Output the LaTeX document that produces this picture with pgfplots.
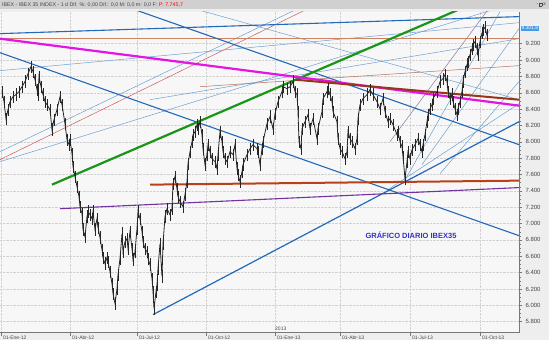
\documentclass[border=0pt]{standalone}
\usepackage{fontspec}
\setmainfont{Liberation Sans}
\usepackage{pgfplots}
\usepackage{pgfplotstable}
\pgfplotsset{compat=1.18}
\definecolor{bgout}{RGB}{238,238,238}
\definecolor{bgplot}{RGB}{247,247,247}
\definecolor{headgray}{RGB}{208,208,208}
\definecolor{gridc}{RGB}{210,210,210}
\definecolor{axc}{RGB}{120,120,120}
\definecolor{lblc}{RGB}{70,70,70}
\definecolor{magl}{RGB}{228,20,228}
\definecolor{salm}{RGB}{205,130,100}
\definecolor{bluel}{RGB}{35,105,185}
\definecolor{bluet}{RGB}{110,160,210}
\definecolor{greenl}{RGB}{25,150,25}
\definecolor{redl}{RGB}{185,65,25}
\definecolor{brownl}{RGB}{150,55,25}
\definecolor{purpl}{RGB}{115,50,160}
\definecolor{redt}{RGB}{205,90,90}
\definecolor{brownt}{RGB}{180,110,90}
\definecolor{grayp}{RGB}{140,120,160}
\definecolor{titc}{RGB}{50,50,200}
\definecolor{boxc}{RGB}{70,155,230}
\pgfplotstableread{
x v
2 8613
4 8491
6 8283
8 8393
10 8491
13 8552
16 8577
19 8613
22 8674
25 8736
28 8833
31 8919
33 8858
35 8760
37 8638
38 8577
39 8797
41 8674
43 8577
45 8491
47 8454
50 8393
52 8149
54 8271
57 8393
60 8552
62 8454
65 8222
67 8026
69 7965
70 8026
72 7855
73 7696
75 7574
77 7451
79 7329
80 7207
82 7121
83 6926
85 6840
87 7085
88 7146
90 7109
92 7060
93 7146
95 6926
97 7060
98 6950
100 6828
102 6681
103 6583
105 6510
107 6583
108 6534
110 6412
112 6265
113 6143
115 6021
117 6204
118 6375
120 6571
122 6877
123 6656
125 6779
127 6815
128 6693
130 6901
132 6693
133 6559
135 6656
137 6938
138 7146
140 7060
142 6901
143 6779
145 6693
147 6656
148 6571
150 6498
152 6326
153 6167
154 5959
156 6167
157 6253
158 6449
160 6754
162 6351
163 6754
165 7085
167 7182
170 7109
172 7182
173 7488
175 7574
177 7427
178 7329
180 7268
183 7207
185 7354
187 7513
188 7733
190 7879
192 8002
193 8087
195 8124
197 8210
198 8161
200 8246
202 8087
203 7916
205 7721
207 7843
208 7965
210 7879
212 7794
215 7757
217 7672
218 7843
220 8124
222 8002
223 7879
225 7794
227 7757
230 7879
233 7843
235 7965
237 7672
238 7598
240 7513
242 7635
243 7721
247 7843
250 7916
253 7965
257 7916
258 7879
260 7721
262 7916
263 8002
267 8222
270 8308
273 8161
275 8344
278 8491
282 8613
283 8674
287 8650
290 8674
293 8736
295 8613
297 8577
298 8369
299 8002
301 7916
302 8161
305 8246
308 8332
310 8161
313 8283
317 8038
318 8161
322 8369
323 8528
327 8613
328 8650
330 8577
332 8491
333 8369
337 8246
338 8038
340 7916
342 7879
345 7794
347 7879
348 8124
350 8038
352 8002
355 7916
357 8038
358 8283
360 8454
363 8528
367 8577
370 8638
373 8577
377 8491
380 8405
383 8528
385 8369
388 8246
390 8283
393 8210
397 8087
398 8124
400 8002
402 7941
403 7818
405 7549
407 7757
408 7879
410 7794
412 7904
415 7965
418 8038
420 7965
422 7879
423 7965
425 8087
427 8246
428 8332
430 8405
432 8454
433 8528
437 8613
440 8736
443 8772
445 8821
447 8736
448 8613
450 8528
452 8577
453 8491
455 8405
457 8332
458 8405
460 8491
462 8613
463 8736
465 8858
467 8944
468 8980
470 9066
472 9139
473 9188
475 9225
477 9139
478 9066
480 9225
482 9330
483 9370
485 9400
487 9302
}\ibex
\begin{document}
\begin{tikzpicture}[x=1pt,y=1pt]
\fill[bgout] (0,0) rectangle (549,340);
\path[use as bounding box] (0,0) rectangle (549,340);
\fill[headgray] (0,331) rectangle (549,340);
\node[anchor=west, inner sep=0pt, font=\fontsize{5.3}{6}\selectfont, text=lblc] at (2,335.5) {IBEX - IBEX 35 INDEX - 1 d Dif. \%: 0,00 Dif.: 0,0 M: 0,0 m: 0,0 F: \textcolor{red}{P: 7.745,7}};
\node[anchor=east, inner sep=0pt, font=\fontsize{5}{6}\selectfont, text=lblc] at (546,335.5) {-\,{\fboxsep=0pt\fboxrule=0.4pt\fbox{\rule{0pt}{2.5pt}\hspace{2.5pt}}}\,x};
\begin{axis}[
  at={(0,9)}, anchor=south west,
  width=519pt, height=321pt, scale only axis,
  xmin=0, xmax=519, ymin=5666, ymax=9592,
  axis background/.style={fill=bgplot},
  axis x line*=bottom, axis y line*=right,
  axis line style={axc, line width=0.5pt},
  ytick={5800,6000,...,9200},
  minor y tick num=3,
  yticklabel pos=right,
  y tick label style={font=\fontsize{6}{7}\selectfont, text=lblc, /pgf/number format/.cd, fixed, precision=0, 1000 sep={.}, assume math mode=true},
  xtick={1,70,137,206,275,340,410,480},
  xticklabels={01-Ene-12,01-Abr-12,01-Jul-12,01-Oct-12,01-Ene-13,01-Abr-13,01-Jul-13,01-Oct-13},
  x tick label style={font=\fontsize{5}{6}\selectfont, text=lblc, anchor=north west, xshift=-1.5pt, yshift=3.5pt},
  tick align=outside,
  major tick length=3pt, minor tick length=1.5pt,
  tick style={axc, line width=0.4pt},
  xmajorgrids, ymajorgrids,
  grid style={gridc, densely dotted, line width=0.4pt},
  clip=true,
]
% thin lines
\addplot[bluet, line width=0.5pt] coordinates {(0,8870) (519,9457)};
\addplot[bluet, line width=0.5pt] coordinates {(0,7879) (300,9641)};
\addplot[redt, line width=0.5pt] coordinates {(0,7782) (310,9641)};
\addplot[bluet, line width=0.5pt] coordinates {(0,7757) (519,9714)};
\addplot[bluet, line width=0.5pt] coordinates {(150,8515) (519,9261)};
\addplot[brownt, line width=0.5pt] coordinates {(200,8674) (519,8931)};
\addplot[bluet, line width=0.5pt] coordinates {(180,9677) (519,8515)};
\addplot[grayp, line width=0.5pt] coordinates {(390,8002) (488,9616)};
\addplot[bluet, line width=0.5pt] coordinates {(403,7488) (500,9592)};
\addplot[bluet, line width=0.5pt] coordinates {(422,7721) (519,9384)};
\addplot[bluet, line width=0.5pt] coordinates {(440,7610) (519,8736)};
\addplot[bluet, line width=0.5pt] coordinates {(388,7415) (519,8467)};
% main lines
\addplot[salm, line width=1.2pt] coordinates {(0,9261) (519,9261)};
\addplot[bluel, line width=1.1pt] coordinates {(0,9323) (519,9531)};
\addplot[bluel, line width=1.1pt] coordinates {(132,9628) (519,7965)};
\addplot[bluel, line width=1.1pt] coordinates {(0,9090) (519,6852)};
\addplot[bluel, line width=1.2pt] coordinates {(153,5886) (519,8246)};
\addplot[purpl, line width=1.1pt] coordinates {(60,7182) (519,7440)};
\addplot[redl, line width=2pt] coordinates {(150,7476) (519,7525)};
\addplot[greenl, line width=2.2pt] coordinates {(52,7476) (470,9677)};
\addplot[magl, line width=2.2pt] coordinates {(0,9261) (519,8442)};
\addplot[brownl, line width=2pt] coordinates {(295,8760) (519,8515)};
% price
\addplot[black!85, line width=0.8pt, mark=none,
  error bars/.cd, y dir=both, y fixed=75, error mark=none,
  error bar style={black!85, line width=1pt}] table[x=x, y=v] {\ibex};
\node[anchor=north west, inner sep=0pt, font=\fontsize{5}{6}\selectfont, text=lblc] at (axis cs:275,5735) {2013};
\node[font=\fontsize{7.5}{9}\selectfont\bfseries, text=titc] at (axis cs:411,6862) {GRÁFICO DIARIO IBEX35};
\end{axis}
\node[fill=boxc, inner sep=0.8pt, font=\fontsize{5}{6}\selectfont, text=white, anchor=west] at (520.5,311.5) {9.301,8};
\end{tikzpicture}
\end{document}
